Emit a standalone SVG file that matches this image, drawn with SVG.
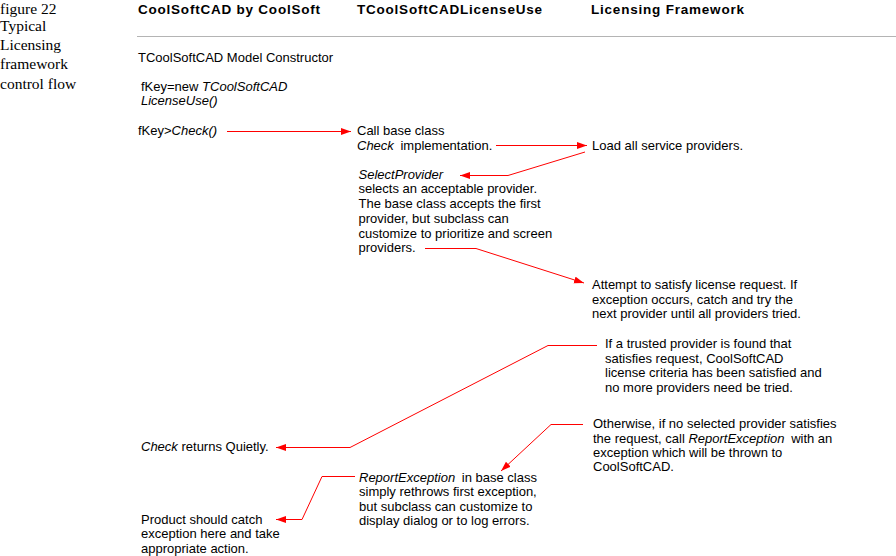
<svg xmlns="http://www.w3.org/2000/svg" width="896" height="556" viewBox="0 0 896 556">
<style>
text{font-family:"Liberation Sans",Arial,sans-serif;font-size:13px;fill:#000}
.cap{font-family:"Liberation Serif","Times New Roman",serif;font-size:15.5px}
.hd{font-weight:bold;font-size:13.5px}
.it{font-style:italic}
.c{fill:none;stroke:#ff0000;stroke-width:1}
</style>
<defs>
<marker id="ah" markerUnits="userSpaceOnUse" markerWidth="11" markerHeight="8" refX="10" refY="3.5" orient="auto">
<path d="M0,0 L10,3.5 L0,7 z" fill="#ff0000"/>
</marker>
</defs>
<rect width="896" height="556" fill="#fff"/>
<g id="caption">
<text class="cap" x="0" y="14">figure 22</text>
<text class="cap" x="0" y="31">Typical</text>
<text class="cap" x="0" y="50">Licensing</text>
<text class="cap" x="0" y="69">framework</text>
<text class="cap" x="0" y="89">control flow</text>
</g>
<g id="headers">
<text class="hd" x="138" y="13.5" textLength="182" lengthAdjust="spacing">CoolSoftCAD by CoolSoft</text>
<text class="hd" x="357" y="13.5" textLength="185" lengthAdjust="spacing">TCoolSoftCADLicenseUse</text>
<text class="hd" x="591" y="13.5" textLength="153" lengthAdjust="spacing">Licensing Framework</text>
<line x1="137" y1="36.5" x2="896" y2="36.5" stroke="#b4b4b4" stroke-width="1"/>
</g>
<g id="constructor">
<text x="138" y="62">TCoolSoftCAD Model Constructor</text>
</g>
<g id="fkey-new">
<text x="141" y="91">fKey=new <tspan class="it">TCoolSoftCAD</tspan></text>
<text x="141" y="105" class="it">LicenseUse()</text>
</g>
<g id="fkey-check">
<text x="138" y="135">fKey&gt;<tspan class="it">Check()</tspan></text>
</g>
<g id="call-base">
<text x="357" y="135">Call base class</text>
<text x="357" y="149.5"><tspan class="it">Check</tspan> <tspan dx="3">implementation.</tspan></text>
</g>
<g id="load-providers">
<text x="592" y="149.5">Load all service providers.</text>
</g>
<g id="select-provider">
<text x="358.5" y="178.5" class="it">SelectProvider</text>
<text x="358.5" y="193">selects an acceptable provider.</text>
<text x="358.5" y="208">The base class accepts the first</text>
<text x="358.5" y="222.5">provider, but subclass can</text>
<text x="358.5" y="237.5">customize to prioritize and screen</text>
<text x="358.5" y="252">providers.</text>
</g>
<g id="attempt">
<text x="592" y="289">Attempt to satisfy license request. If</text>
<text x="592" y="303.5">exception occurs, catch and try the</text>
<text x="592" y="318">next provider until all providers tried.</text>
</g>
<g id="trusted">
<text x="605" y="348">If a trusted provider is found that</text>
<text x="605" y="362.5">satisfies request, CoolSoftCAD</text>
<text x="605" y="377">license criteria has been satisfied and</text>
<text x="605" y="391.5">no more providers need be tried.</text>
</g>
<g id="check-returns">
<text x="141" y="451"><tspan class="it">Check</tspan> returns Quietly.</text>
</g>
<g id="otherwise">
<text x="593" y="428">Otherwise, if no selected provider satisfies</text>
<text x="593" y="442.5">the request, call <tspan class="it">ReportException</tspan> <tspan dx="3">with an</tspan></text>
<text x="593" y="457">exception which will be thrown to</text>
<text x="593" y="471">CoolSoftCAD.</text>
</g>
<g id="report-exception">
<text x="359" y="481.5"><tspan class="it">ReportException</tspan> <tspan dx="3">in base class</tspan></text>
<text x="359" y="496">simply rethrows first exception,</text>
<text x="359" y="510.5">but subclass can customize to</text>
<text x="359" y="525">display dialog or to log errors.</text>
</g>
<g id="product-catch">
<text x="141" y="523.5">Product should catch</text>
<text x="141" y="538">exception here and take</text>
<text x="141" y="552.5">appropriate action.</text>
</g>
<g id="connectors">
<path class="c" d="M227,131.5 L351,131.5" marker-end="url(#ah)"/>
<path class="c" d="M496,145.5 L587,145.5" marker-end="url(#ah)"/>
<path class="c" d="M585,152 L508,175.5 L460,175.5" marker-end="url(#ah)"/>
<path class="c" d="M425,248.5 L476,248.5 L584,283" marker-end="url(#ah)"/>
<path class="c" d="M597,345.5 L548,345.5 L350,447.5 L276,447.5" marker-end="url(#ah)"/>
<path class="c" d="M583,424.5 L551,424.5 L501,471" marker-end="url(#ah)"/>
<path class="c" d="M355,476.5 L322,476.5 L302,519.5 L276,519.5" marker-end="url(#ah)"/>
</g>
</svg>
